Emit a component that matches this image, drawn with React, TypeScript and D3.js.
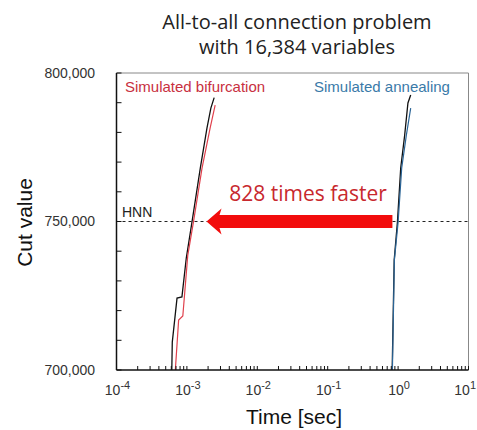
import React from 'react';
import * as d3 from 'd3';

// values
const sbTimeBlack = [6.1e-4, 6.2e-4, 7.24e-4, 8.5e-4, 9.8e-4, 1.18e-3, 1.55e-3, 1.93e-3, 2.19e-3, 2.44e-3];
const sbCutBlack = [700000, 709400, 724200, 724600, 737700, 749800, 768000, 781500, 788200, 791700];
const sbTimeRed = [6.85e-4, 7.63e-4, 8.75e-4, 1.03e-3, 1.24e-3, 1.64e-3, 2.14e-3, 2.52e-3];
const sbCutRed = [700000, 716800, 718200, 738700, 749900, 768000, 781500, 789200];
const saTimeBlack = [0.824, 0.88, 0.978, 1.089, 1.24, 1.38, 1.51];
const saCutBlack = [700000, 737000, 749800, 768000, 779100, 789900, 792600];
const saTimeBlue = [0.83, 0.885, 1.0, 1.125, 1.31, 1.51];
const saCutBlue = [700000, 737000, 749800, 768000, 779100, 788200];

const yMajorTicks = [700000, 750000, 800000];
const yTickLabels = ['700,000', '750,000', '800,000'];
const xDecades = [-4, -3, -2, -1, 0, 1];
const hnnValue = 750000;
const arrowFrom = 0.83;
const arrowTo = 1.9e-3;

const W = 477, H = 430;
const m = { left: 116.5, right: 468.5, top: 73, bottom: 370 };

export default function App() {
  const x = d3.scaleLog().domain([1e-4, 10]).range([m.left, m.right]);
  const y = d3.scaleLinear().domain([700000, 800000]).range([m.bottom, m.top]);

  const line = d3.line<[number, number]>().x(d => x(d[0])).y(d => y(d[1]));
  const pts = (t: number[], v: number[]) => t.map((d, i) => [d, v[i]] as [number, number]);

  const yMinor = d3.range(700000, 800001, 10000);
  const xMinor = x.ticks();

  const ay = y(hnnValue);
  const tip = x(arrowTo), tail = x(arrowFrom);
  const headLen = 15, headHalf = 13, shaftHalf = 6.5;
  const arrow = [
    [tip, ay],
    [tip + headLen, ay - headHalf],
    [tip + headLen - 2, ay - shaftHalf],
    [tail, ay - shaftHalf],
    [tail, ay + shaftHalf],
    [tip + headLen - 2, ay + shaftHalf],
    [tip + headLen, ay + headHalf],
  ].map(p => p.join(',')).join(' ');

  const arial = 'Arial, "Liberation Sans", sans-serif';
  const sans = '"Open Sans", "Noto Sans", sans-serif';

  return (
    <div style={{ position: 'absolute', left: 0, top: 0 }}>
      <svg width={W} height={H} style={{ display: 'block', background: '#fff' }}>
        <defs>
          <clipPath id="plot">
            <rect x={m.left} y={m.top} width={m.right - m.left} height={m.bottom - m.top} />
          </clipPath>
        </defs>

        <text x={297} y={29} textAnchor="middle" fontFamily={sans} fontSize={20} fill="#222">All-to-all connection problem</text>
        <text x={297} y={54} textAnchor="middle" fontFamily={sans} fontSize={20} fill="#222">with 16,384 variables</text>

        {/* frame */}
        <line x1={m.left} x2={m.right} y1={m.top} y2={m.top} stroke="#888" strokeWidth={1} />
        <line x1={m.right} x2={m.right} y1={m.top} y2={m.bottom} stroke="#888" strokeWidth={1} />

        {/* HNN */}
        <line x1={m.left} x2={m.right} y1={ay} y2={ay} stroke="#222" strokeWidth={1} strokeDasharray="3,3" />
        <text x={122} y={217} fontFamily={arial} fontSize={14} fill="#222">HNN</text>

        <g clipPath="url(#plot)" fill="none">
          <path d={line(pts(sbTimeBlack, sbCutBlack)) || ''} stroke="#111" strokeWidth={1.3} />
          <path d={line(pts(sbTimeRed, sbCutRed)) || ''} stroke="#e0404c" strokeWidth={1.2} />
          <path d={line(pts(saTimeBlack, saCutBlack)) || ''} stroke="#111" strokeWidth={1.3} />
          <path d={line(pts(saTimeBlue, saCutBlue)) || ''} stroke="#2a6496" strokeWidth={1.2} />
        </g>

        {/* arrow */}
        <polygon points={arrow} fill="#f20c0c" />
        <text x={308} y={201} textAnchor="middle" fontFamily={sans} fontSize={21} fill="#c8282e">828 times faster</text>

        <text x={125} y={91.5} fontFamily={arial} fontSize={15} fill="#c83040">Simulated bifurcation</text>
        <text x={314} y={91.5} fontFamily={arial} fontSize={15} fill="#3a7aa8">Simulated annealing</text>

        {/* axes */}
        <line x1={m.left} x2={m.left} y1={m.top} y2={m.bottom} stroke="#111" strokeWidth={1.5} />
        <line x1={m.left} x2={m.right} y1={m.bottom} y2={m.bottom} stroke="#111" strokeWidth={1.5} />
        {yMinor.map(v => (
          <line key={v} x1={m.left} x2={m.left + 5} y1={y(v)} y2={y(v)} stroke="#111" strokeWidth={1} />
        ))}
        {xMinor.map((t, i) => (
          <line key={i} x1={x(t)} x2={x(t)} y1={m.bottom} y2={m.bottom - 4} stroke="#111" strokeWidth={1} />
        ))}
        {yMajorTicks.map((v, i) => (
          <text key={v} x={95} y={y(v)} dy="0.35em" textAnchor="end" fontFamily={arial} fontSize={14} fill="#333">{yTickLabels[i]}</text>
        ))}
        {xDecades.map((e, i) => {
          const last = i === xDecades.length - 1;
          return (
            <text key={e} x={last ? W - 1 : x(Math.pow(10, e)) + 1} y={395}
              textAnchor={last ? 'end' : 'middle'} fontFamily={arial} fontSize={14} fill="#333">
              10<tspan dy={-6} fontSize={11}>{e}</tspan>
            </text>
          );
        })}

        <text x={294} y={424} textAnchor="middle" fontFamily={arial} fontSize={21} fill="#111">Time [sec]</text>
        <text transform="translate(32,222.5) rotate(-90)" textAnchor="middle" fontFamily={arial} fontSize={21} fill="#111">Cut value</text>
      </svg>
    </div>
  );
}
